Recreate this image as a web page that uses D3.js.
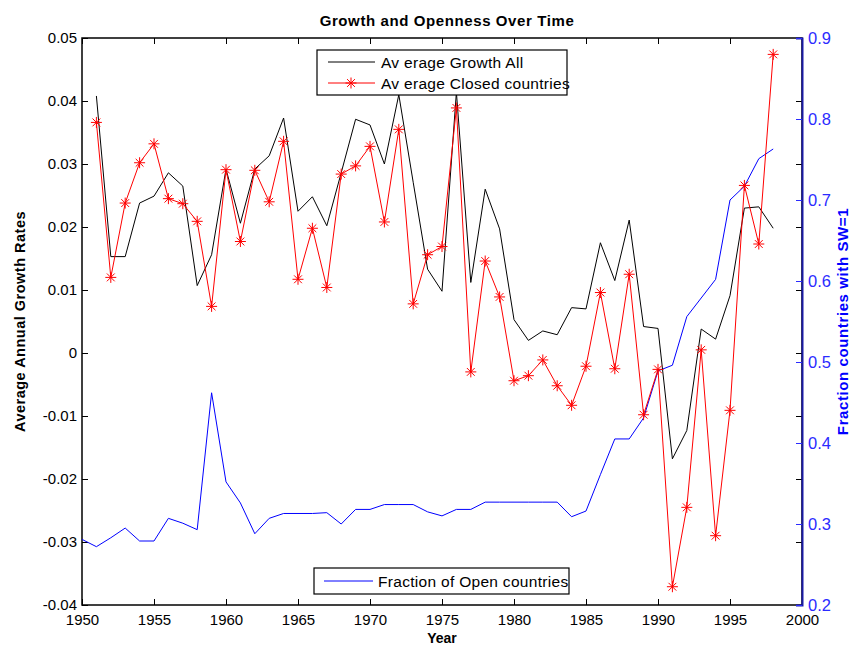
<!DOCTYPE html>
<html>
<head>
<meta charset="utf-8">
<script src="https://cdn.jsdelivr.net/npm/d3@7"></script>
<style>
  body { margin: 0; background: #fff; }
  text { font-family: "Liberation Sans", Arial, sans-serif; }
</style>
</head>
<body>
<svg class="svg-main" width="854" height="646"></svg>
<script>
// years for the two growth series (black + red) and the fraction series (blue)
const growthYears = [1951, 1952, 1953, 1954, 1955, 1956, 1957, 1958, 1959, 1960,
  1961, 1962, 1963, 1964, 1965, 1966, 1967, 1968, 1969, 1970,
  1971, 1972, 1973, 1974, 1975, 1976, 1977, 1978, 1979, 1980,
  1981, 1982, 1983, 1984, 1985, 1986, 1987, 1988, 1989, 1990,
  1991, 1992, 1993, 1994, 1995, 1996, 1997, 1998];
const openYears = [1950].concat(growthYears);

const growthAll = [0.0408, 0.0153, 0.0153, 0.0238, 0.0249, 0.0286, 0.0265, 0.0107, 0.0156, 0.0292,
  0.0206, 0.0292, 0.0313, 0.0373, 0.0225, 0.0248, 0.0202, 0.0286, 0.0371, 0.0362,
  0.0300, 0.0410, 0.0271, 0.0133, 0.0098, 0.0414, 0.0112, 0.0260, 0.0197, 0.0053,
  0.0020, 0.0035, 0.0029, 0.0072, 0.0070, 0.0175, 0.0115, 0.0211, 0.0042, 0.0039,
  -0.0168, -0.0123, 0.0038, 0.0022, 0.0091, 0.0230, 0.0232, 0.0198];

const growthClosed = [0.0366, 0.0120, 0.0238, 0.0302, 0.0332, 0.0245, 0.0237, 0.0209, 0.0074, 0.0291,
  0.0177, 0.0290, 0.0240, 0.0336, 0.0117, 0.0198, 0.0104, 0.0284, 0.0297, 0.0328,
  0.0208, 0.0355, 0.0078, 0.0156, 0.0169, 0.0389, -0.0030, 0.0146, 0.0089, -0.0044,
  -0.0036, -0.0011, -0.0052, -0.0083, -0.0021, 0.0096, -0.0025, 0.0125, -0.0098, -0.0026,
  -0.0371, -0.0245, 0.0005, -0.0290, -0.0091, 0.0266, 0.0173, 0.0474];

const fractionOpen = [0.281, 0.272, 0.283, 0.295, 0.279, 0.279, 0.307, 0.301, 0.293, 0.462,
  0.352, 0.326, 0.288, 0.307, 0.313, 0.313, 0.313, 0.314, 0.300, 0.318,
  0.318, 0.324, 0.324, 0.324, 0.315, 0.310, 0.318, 0.318, 0.327, 0.327,
  0.327, 0.327, 0.327, 0.327, 0.309, 0.316, 0.361, 0.405, 0.405, 0.431,
  0.489, 0.496, 0.556, 0.579, 0.602, 0.700, 0.717, 0.751, 0.763];

const xTicks = [1950, 1955, 1960, 1965, 1970, 1975, 1980, 1985, 1990, 1995, 2000];
const leftTicks = [-0.04, -0.03, -0.02, -0.01, 0, 0.01, 0.02, 0.03, 0.04, 0.05];
const rightTicks = [0.2, 0.3, 0.4, 0.5, 0.6, 0.7, 0.8, 0.9];

const svg = d3.select('.svg-main');

const mLeft = 82, mRight = 802, mTop = 38, mBottom = 605;
const blueAxis = "#1a1aa6", blueText = "#2b2bff";
const font = "Liberation Sans, Arial, sans-serif";

const x = d3.scaleLinear().domain([1950, 2000]).range([mLeft, mRight]);
const y = d3.scaleLinear().domain([-0.04, 0.05]).range([mBottom, mTop]);
const y2 = d3.scaleLinear().domain([0.2, 0.9]).range([mBottom, mTop]);

// axes (ticks point inward like matlab), plain hyphen for minus
const fmtL = (d) => d === 0 ? "0" : d3.format(".2f")(d).replace("\u2212", "-");

svg.append("g")
  .attr("transform", `translate(0,${mBottom})`)
  .call(d3.axisBottom(x).tickValues(xTicks).tickSize(-6).tickPadding(9).tickFormat(d3.format("d")))
  .call((g) => g.select(".domain").remove());

svg.append("g")
  .attr("transform", `translate(0,${mTop})`)
  .call(d3.axisTop(x).tickValues(xTicks).tickSize(-6).tickFormat(""))
  .call((g) => g.select(".domain").remove());

svg.append("g")
  .attr("transform", `translate(${mLeft},0)`)
  .call(d3.axisLeft(y).tickValues(leftTicks).tickSize(-6).tickPadding(5).tickFormat(fmtL))
  .call((g) => g.select(".domain").remove());

// mirrored left ticks on the right side
svg.append("g")
  .attr("transform", `translate(${mRight},0)`)
  .call(d3.axisRight(y).tickValues(leftTicks).tickSize(-6).tickFormat(""))
  .call((g) => g.select(".domain").remove());

svg.selectAll("g.tick text")
  .attr("font-size", 15)
  .attr("fill", "#000")
  .attr("font-family", font);
svg.selectAll("g.tick line").attr("stroke", "#000");

// frame
svg.append("rect")
  .attr("x", mLeft).attr("y", mTop)
  .attr("width", mRight - mLeft).attr("height", mBottom - mTop)
  .attr("fill", "none").attr("stroke", "#000").attr("stroke-width", 1.5);

const rightAxis = svg.append("g")
  .attr("transform", `translate(${mRight},0)`)
  .call(d3.axisRight(y2).tickValues(rightTicks).tickSize(-6).tickPadding(6).tickFormat((d) => d3.format(".1f")(d)));
rightAxis.select(".domain").attr("stroke", blueAxis).attr("stroke-width", 2);
rightAxis.selectAll(".tick line").attr("stroke", blueText);
rightAxis.selectAll(".tick text")
  .attr("font-size", 16.5)
  .attr("fill", blueText)
  .attr("font-family", font);

// series
const lineG = d3.line().x((d) => x(d[0])).y((d) => y(d[1]));
const lineO = d3.line().x((d) => x(d[0])).y((d) => y2(d[1]));

const allData = growthYears.map((yr, i) => [yr, growthAll[i]]);
const closedData = growthYears.map((yr, i) => [yr, growthClosed[i]]);
const openData = openYears.map((yr, i) => [yr, fractionOpen[i]]);

svg.append("path").datum(openData)
  .attr("d", lineO).attr("fill", "none").attr("stroke", "#0000ff").attr("stroke-width", 1);

svg.append("path").datum(allData)
  .attr("d", lineG).attr("fill", "none").attr("stroke", "#000").attr("stroke-width", 1);

svg.append("path").datum(closedData)
  .attr("d", lineG).attr("fill", "none").attr("stroke", "#ff0000").attr("stroke-width", 1);

const star = "M-5.5,0L5.5,0M0,-5.5L0,5.5M-3.9,-3.9L3.9,3.9M-3.9,3.9L3.9,-3.9";

svg.append("g")
  .selectAll("path")
  .data(closedData)
  .enter().append("path")
    .attr("transform", (d) => `translate(${x(d[0])},${y(d[1])})`)
    .attr("d", star)
    .attr("stroke", "#ff0000")
    .attr("stroke-width", 1)
    .attr("fill", "none");

// titles
svg.append("text")
  .attr("x", 447).attr("y", 26)
  .attr("text-anchor", "middle")
  .attr("font-size", 15).attr("font-weight", "bold")
  .attr("letter-spacing", 0.6)
  .text("Growth and Openness Over Time");

svg.append("text")
  .attr("x", 442).attr("y", 643)
  .attr("text-anchor", "middle")
  .attr("font-size", 14).attr("font-weight", "bold")
  .text("Year");

svg.append("text")
  .attr("transform", `translate(25,${(mTop + mBottom) / 2}) rotate(-90)`)
  .attr("text-anchor", "middle")
  .attr("font-size", 14.5).attr("font-weight", "bold")
  .attr("letter-spacing", 0.5)
  .text("Average Annual Growth Rates");

svg.append("text")
  .attr("transform", `translate(848,${(mTop + mBottom) / 2}) rotate(-90)`)
  .attr("text-anchor", "middle")
  .attr("font-size", 15).attr("font-weight", "bold")
  .attr("letter-spacing", 0.6)
  .attr("fill", "#0000ff")
  .text("Fraction countries with SW=1");

// legend (growth)
const leg1 = svg.append("g");
leg1.append("rect")
  .attr("x", 317).attr("y", 50).attr("width", 250).attr("height", 45)
  .attr("fill", "#fff").attr("stroke", "#000").attr("stroke-width", 1.2);
leg1.append("line")
  .attr("x1", 328).attr("x2", 375).attr("y1", 62).attr("y2", 62)
  .attr("stroke", "#000");
leg1.append("line")
  .attr("x1", 328).attr("x2", 375).attr("y1", 83).attr("y2", 83)
  .attr("stroke", "#ff0000");
leg1.append("path")
  .attr("transform", "translate(351,83)")
  .attr("d", star).attr("stroke", "#ff0000").attr("fill", "none");
leg1.append("text").attr("x", 381).attr("y", 67.5).attr("font-size", 15.5).attr("letter-spacing", 0.3).text("Av erage Growth All");
leg1.append("text").attr("x", 381).attr("y", 88.5).attr("font-size", 15.5).attr("letter-spacing", 0.3).text("Av erage Closed countries");

// legend (fraction)
const leg2 = svg.append("g");
leg2.append("rect")
  .attr("x", 314).attr("y", 568).attr("width", 255).attr("height", 26)
  .attr("fill", "#fff").attr("stroke", "#000").attr("stroke-width", 1.2);
leg2.append("line")
  .attr("x1", 324).attr("x2", 373).attr("y1", 581).attr("y2", 581)
  .attr("stroke", "#0000ff");
leg2.append("text").attr("x", 378).attr("y", 586.5).attr("font-size", 15.5).attr("letter-spacing", 0.3).text("Fraction of  Open countries");
</script>
</body>
</html>
